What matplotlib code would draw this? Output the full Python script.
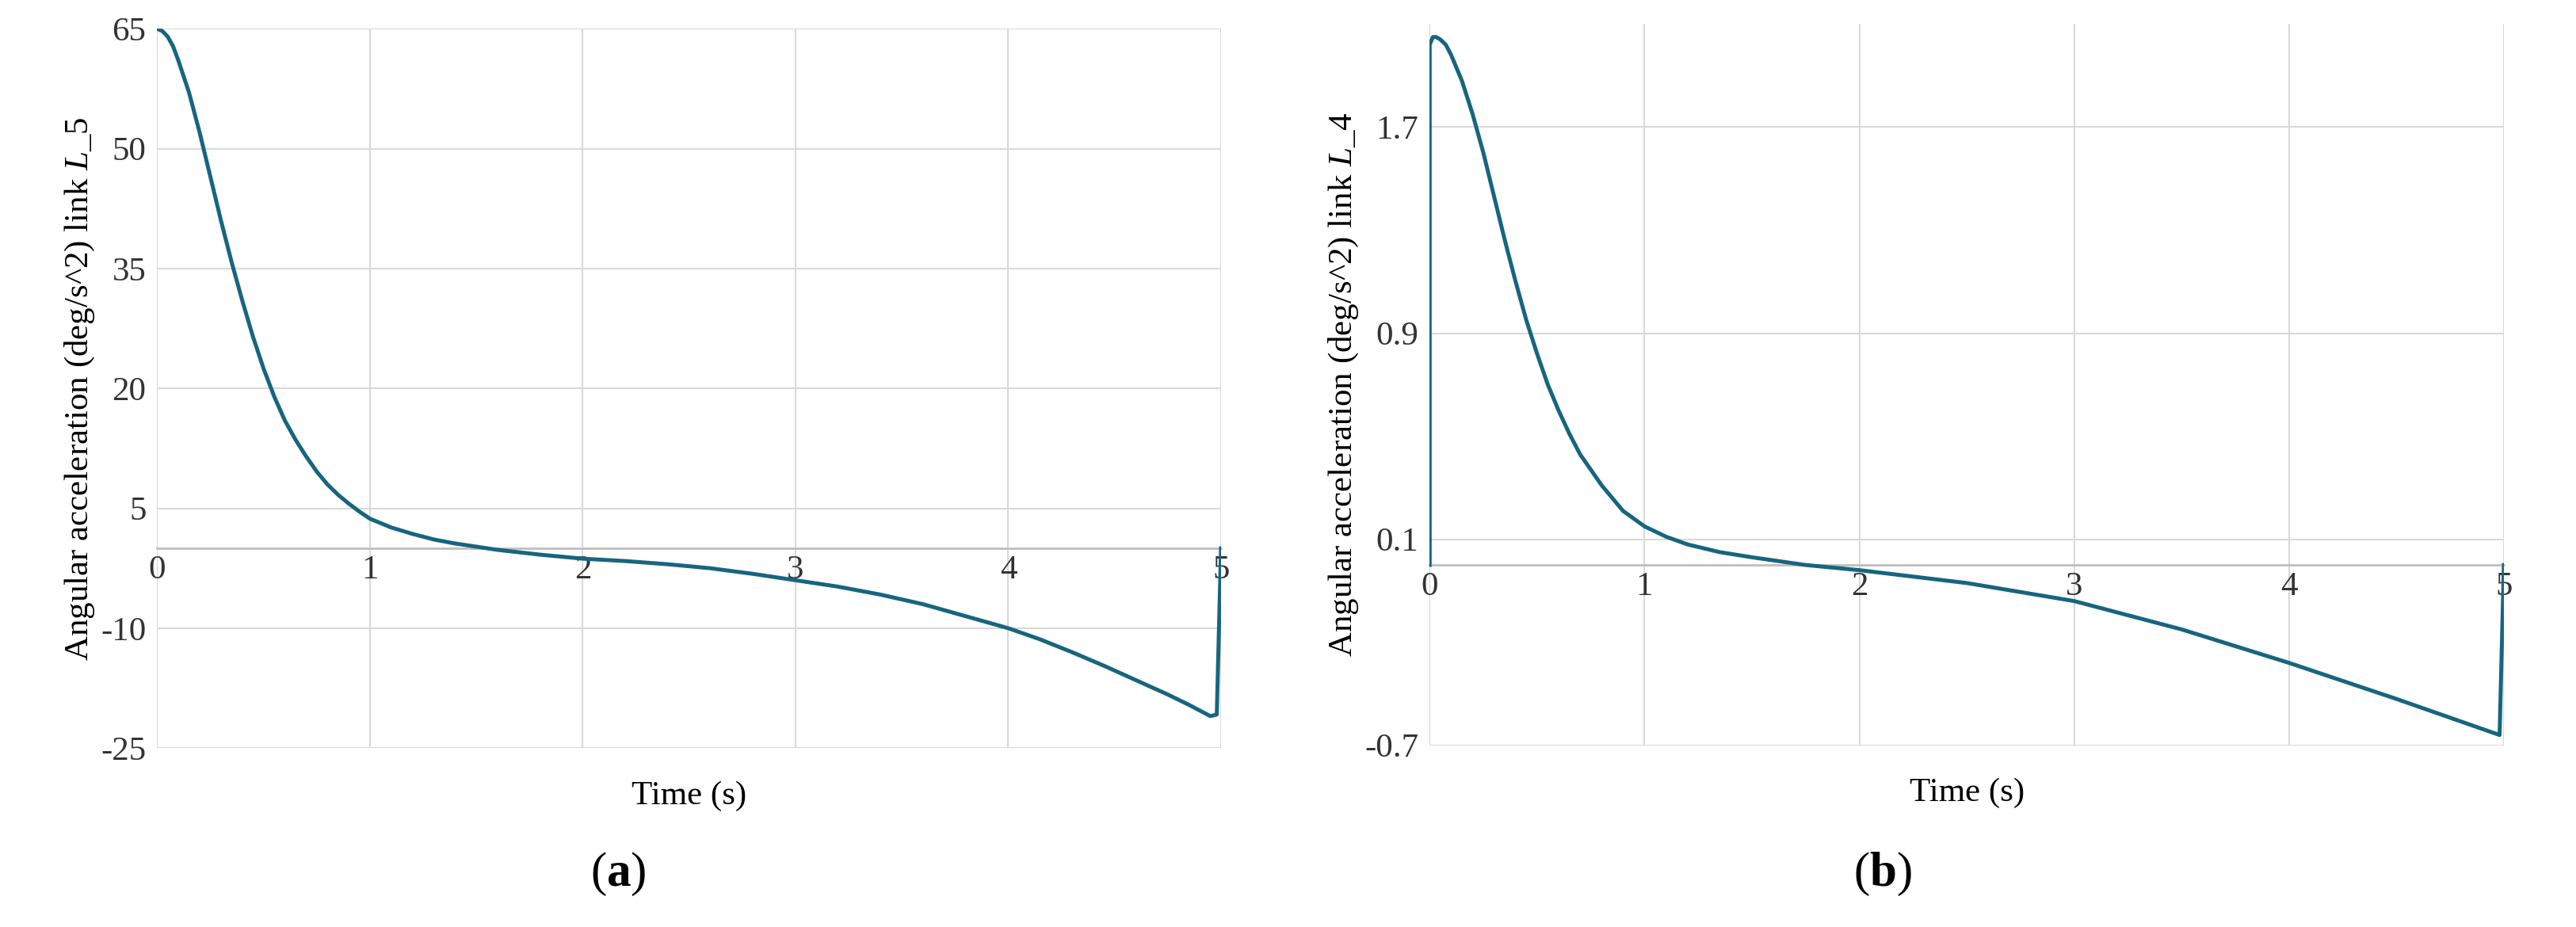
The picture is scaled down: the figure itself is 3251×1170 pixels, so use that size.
import matplotlib.pyplot as plt

plt.rcParams['font.family'] = ['Liberation Serif', 'DejaVu Serif']
plt.rcParams['mathtext.fontset'] = 'custom'
plt.rcParams['mathtext.it'] = 'Liberation Serif:italic'
plt.rcParams['mathtext.rm'] = 'Liberation Serif'
plt.rcParams['mathtext.bf'] = 'Liberation Serif:bold'

# panel (a): link L_5
t_a = [0, 0.025, 0.05, 0.075, 0.1, 0.15, 0.2, 0.25, 0.3, 0.35, 0.4, 0.45, 0.5, 0.55,
       0.6, 0.65, 0.7, 0.75, 0.8, 0.85, 0.9, 0.95, 1.0, 1.1, 1.2, 1.3, 1.4, 1.5, 1.6,
       1.8, 2.0, 2.2, 2.4, 2.6, 2.8, 3.0, 3.2, 3.4, 3.6, 3.8, 4.0, 4.15, 4.3, 4.45,
       4.6, 4.75, 4.85, 4.9, 4.95, 4.98, 5.0]
acc_a = [65, 64.7, 64, 62.8, 61, 57, 52, 46.5, 41, 35.8, 31, 26.5, 22.5, 19,
         16, 13.6, 11.5, 9.6, 8, 6.7, 5.6, 4.6, 3.7, 2.6, 1.8, 1.1, 0.6, 0.2, -0.2,
         -0.8, -1.3, -1.6, -2.0, -2.5, -3.2, -4.0, -4.8, -5.8, -7.0, -8.5, -10, -11.4,
         -13, -14.7, -16.5, -18.3, -19.6, -20.3, -21, -20.8, 0]
yt_a = [-25, -10, 5, 20, 35, 50, 65]

# panel (b): link L_4
t_b = [0, 0.0, 0.015, 0.03, 0.05, 0.075, 0.1, 0.15, 0.2, 0.25, 0.3, 0.35, 0.4, 0.45,
       0.5, 0.55, 0.6, 0.65, 0.7, 0.75, 0.8, 0.85, 0.9, 0.95, 1.0, 1.1, 1.2, 1.35, 1.5,
       1.75, 2.0, 2.5, 3.0, 3.5, 4.0, 4.5, 4.98, 5.0]
acc_b = [0, 2.02, 2.05, 2.05, 2.04, 2.02, 1.98, 1.88, 1.75, 1.6, 1.43, 1.26, 1.1, 0.95,
         0.82, 0.7, 0.6, 0.51, 0.43, 0.37, 0.31, 0.26, 0.21, 0.18, 0.15, 0.11, 0.08, 0.05,
         0.03, 0.0, -0.02, -0.07, -0.14, -0.25, -0.38, -0.52, -0.66, 0.0]
yt_b = [-0.7, 0.1, 0.9, 1.7]

fig = plt.figure(figsize=(32.51, 11.7), dpi=100)
ax_a = fig.add_axes([0.061, 0.193, 0.413, 0.776])
ax_b = fig.add_axes([0.555, 0.196, 0.417, 0.778])

panels = [
    (ax_a, t_a, acc_a, yt_a, (-25, 65), "5", "a", 0.24),
    (ax_b, t_b, acc_b, yt_b, (-0.7, 2.1), "4", "b", 0.731),
]
for ax, t, acc, yt, ylim, link, tag, xtag in panels:
    ax.plot(t, acc, color='#17657F', lw=3.6, zorder=3)
    ax.set_xlim(0, 5)
    ax.set_ylim(*ylim)
    ax.set_yticks(yt)
    ax.set_yticklabels([f"{v:g}" for v in yt])
    ax.set_xticks([0, 1, 2, 3, 4, 5])
    ax.grid(True, color='#d9d9d9', lw=1.5)
    for s in ['top', 'right', 'left']:
        ax.spines[s].set_visible(False)
    ax.spines['bottom'].set_position(('data', 0))
    ax.spines['bottom'].set_color('#bfbfbf')
    ax.spines['bottom'].set_linewidth(2)
    ax.tick_params(length=0, labelsize=31, colors='#333333')
    ax.tick_params(axis='x', pad=6)
    ax.tick_params(axis='y', pad=10)
    ax.set_ylabel("Angular acceleration (deg/s^2) link $L\\_" + link + "$", fontsize=31)
    ax.set_xlabel("Time (s)", fontsize=31)
    ax.xaxis.set_label_coords(0.5, -0.045)
    fig.text(xtag, 0.057, "($\\mathbf{" + tag + "}$)", fontsize=44, ha='center', va='center')

fig.savefig('out.png', dpi=100)
